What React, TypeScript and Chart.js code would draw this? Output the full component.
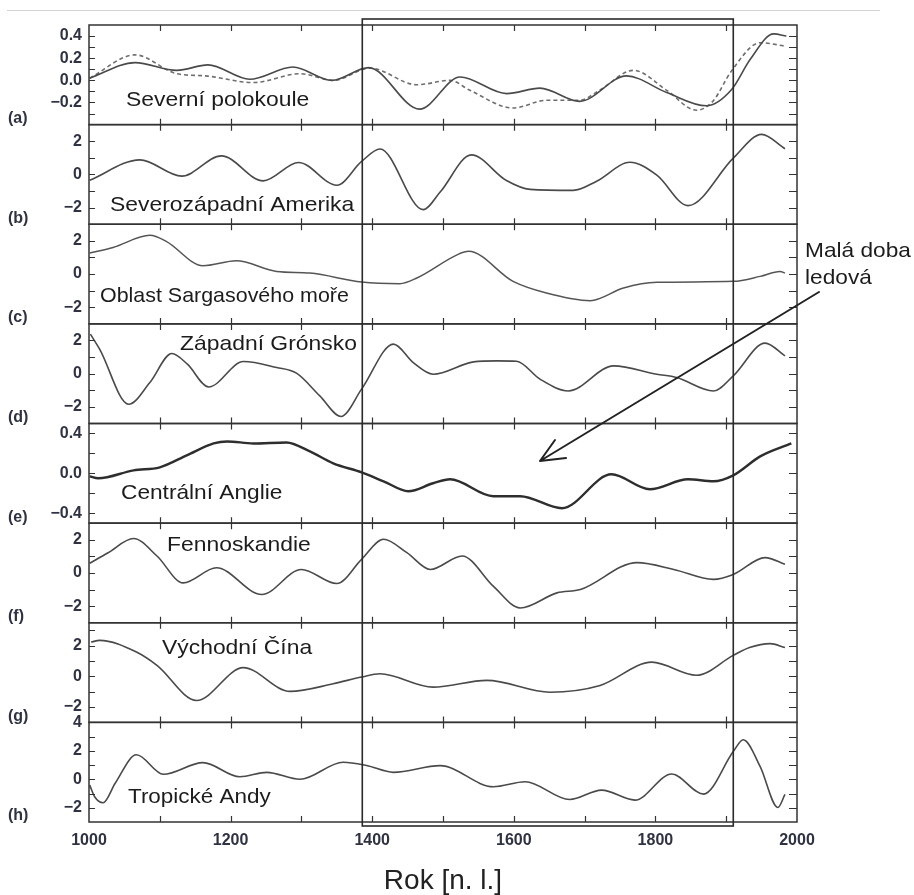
import React, { useEffect, useRef } from 'react';
import { Chart, registerables } from 'chart.js';

Chart.register(...registerables);

// ---------- data (years AD, anomaly values) ----------
const nhSolidYears = [1001, 1065, 1124, 1168, 1227, 1288, 1343, 1395, 1467, 1524, 1590, 1637, 1693, 1759, 1816, 1872, 1908, 1934, 1967, 1985];
const nhSolidValues = [0.02, 0.16, 0.09, 0.14, 0.01, 0.12, 0.0, 0.115, -0.26, 0.03, -0.12, -0.07, -0.19, 0.04, -0.11, -0.23, -0.08, 0.19, 0.42, 0.4];

const nhDashedYears = [1001, 1065, 1124, 1165, 1232, 1298, 1345, 1397, 1463, 1510, 1538, 1599, 1646, 1693, 1721, 1769, 1816, 1858, 1881, 1908, 1948, 1983];
const nhDashedValues = [0.02, 0.23, 0.06, 0.04, -0.02, 0.06, 0.0, 0.11, -0.04, 0.0, -0.09, -0.25, -0.18, -0.18, -0.09, 0.09, -0.09, -0.27, -0.19, 0.09, 0.34, 0.31];

const nwAmericaYears = [1001, 1072, 1131, 1187, 1246, 1296, 1350, 1385, 1411, 1472, 1496, 1540, 1589, 1623, 1684, 1717, 1764, 1802, 1846, 1910, 1950, 1983];
const nwAmericaValues = [-0.35, 0.88, -0.1, 1.12, -0.39, 0.72, -0.65, 0.78, 1.53, -2.12, -1.06, 1.18, -0.35, -0.9, -0.96, -0.41, 0.73, -0.04, -1.88, 0.98, 2.41, 1.55];

const sargassoYears = [1001, 1034, 1086, 1109, 1161, 1208, 1265, 1312, 1385, 1439, 1463, 1522, 1536, 1599, 1646, 1708, 1755, 1802, 1910, 1948, 1976, 1983];
const sargassoValues = [1.27, 1.6, 2.33, 1.97, 0.5, 0.8, 0.16, 0.06, -0.48, -0.58, -0.24, 1.2, 1.37, -0.44, -1.14, -1.6, -0.84, -0.5, -0.44, -0.14, 0.16, 0.06];

const greenlandYears = [1002, 1015, 1056, 1086, 1117, 1139, 1169, 1218, 1265, 1293, 1326, 1356, 1385, 1430, 1458, 1486, 1543, 1576, 1604, 1637, 1677, 1741, 1802, 1830, 1882, 1910, 1955, 1983];
const greenlandValues = [2.38, 1.48, -1.84, -0.53, 1.22, 0.57, -0.8, 0.73, 0.37, 0.03, -1.34, -2.58, -0.93, 1.78, 0.67, -0.03, 0.71, 0.77, 0.75, -0.33, -1.04, 0.47, -0.03, -0.23, -1.04, -0.13, 1.84, 1.07];

const englandYears = [1001, 1013, 1063, 1100, 1138, 1176, 1195, 1232, 1279, 1312, 1345, 1385, 1416, 1451, 1486, 1510, 1571, 1609, 1668, 1738, 1792, 1846, 1882, 1910, 1948, 1992];
const englandValues = [-0.03, -0.05, 0.03, 0.06, 0.18, 0.3, 0.32, 0.3, 0.31, 0.22, 0.1, 0.01, -0.08, -0.18, -0.1, -0.06, -0.23, -0.23, -0.35, -0.01, -0.16, -0.06, -0.08, -0.02, 0.17, 0.3];

const fennoYears = [1001, 1027, 1063, 1096, 1133, 1180, 1244, 1300, 1350, 1385, 1416, 1449, 1482, 1527, 1571, 1609, 1661, 1694, 1774, 1826, 1882, 1910, 1955, 1983];
const fennoValues = [0.58, 1.22, 2.07, 1.02, -0.6, 0.31, -1.3, 0.21, -0.64, 0.82, 2.03, 1.22, 0.21, 1.02, -0.8, -2.11, -1.2, -1.0, 0.62, 0.21, -0.39, -0.09, 0.92, 0.52];

const chinaYears = [1003, 1015, 1067, 1096, 1152, 1218, 1284, 1345, 1385, 1411, 1486, 1562, 1651, 1722, 1795, 1858, 1910, 1933, 1962, 1983];
const chinaValues = [2.24, 2.35, 1.59, 0.72, -1.57, 0.57, -0.98, -0.48, -0.04, 0.17, -0.7, -0.26, -1.03, -0.59, 0.93, 0.07, 1.37, 1.88, 2.14, 1.88];

const andesYears = [1001, 1008, 1020, 1037, 1067, 1105, 1161, 1213, 1251, 1298, 1359, 1392, 1430, 1496, 1571, 1616, 1679, 1724, 1771, 1823, 1868, 1910, 1924, 1948, 1973, 1983];
const andesValues = [-0.4, -1.23, -1.65, -0.28, 1.72, 0.35, 1.17, 0.18, 0.49, 0.0, 1.2, 0.97, 0.49, 0.96, -0.52, -0.17, -1.42, -0.76, -1.46, 0.37, -1.04, 1.95, 2.78, 0.89, -1.98, -1.06];

// ---------- panels ----------
const panelIds = ['ya', 'yb', 'yc', 'yd', 'ye', 'yf', 'yg', 'yh'];
const panelLetters = ['(a)', '(b)', '(c)', '(d)', '(e)', '(f)', '(g)', '(h)'];
const panelNames = ['Severní polokoule', 'Severozápadní Amerika', 'Oblast Sargasového moře', 'Západní Grónsko', 'Centrální Anglie', 'Fennoskandie', 'Východní Čína', 'Tropické Andy'];
const panelMin = [-0.4, -3, -3, -3, -0.5, -3, -3, -3];
const panelMax = [0.5, 3, 3, 3, 0.5, 3, 3.5, 4];
const panelDecimals = [1, 0, 0, 0, 1, 0, 0, 0];
const panelLabelTicks = [
  [-0.2, 0, 0.2, 0.4],
  [-2, 0, 2],
  [-2, 0, 2],
  [-2, 0, 2],
  [-0.4, 0, 0.4],
  [-2, 0, 2],
  [-2, 0, 2],
  [-2, 0, 2, 4],
];
const panelMinorTicks = [
  [-0.3, -0.2, -0.1, 0, 0.1, 0.2, 0.3, 0.4],
  [-2, -1, 0, 1, 2],
  [-2, -1, 0, 1, 2],
  [-2, -1, 0, 1, 2],
  [-0.4, -0.2, 0, 0.2, 0.4],
  [-2, -1, 0, 1, 2],
  [-2, -1, 0, 1, 2, 3],
  [-2, -1, 0, 1, 2, 3],
];
const yearLabels = [1000, 1200, 1400, 1600, 1800, 2000];
const yearMinorTicks = [1100, 1200, 1300, 1400, 1500, 1600, 1700, 1800, 1900];
const boxYears = [1386, 1910];

// text placement (left x, baseline y, horizontal stretch)
const nameLeft = [126, 110, 100, 180, 121, 167, 162, 128];
const nameBaseline = [106, 211, 302, 350, 499, 551, 654, 803];
const nameStretch = [1.09, 1.09, 1.02, 1.09, 1.08, 1.09, 1.09, 1.07];

const FONT = '"Liberation Sans", Arial, Helvetica, sans-serif';

function fmt(v: number, dec: number) {
  const a = Math.abs(v) < 1e-9 ? 0 : v;
  const s = Math.abs(a).toFixed(dec);
  return a < 0 ? '\u2212' + s : s;
}

function pts(xs: number[], ys: number[]) {
  return xs.map((x, i) => ({ x, y: ys[i] }));
}

const decorPlugin = {
  id: 'decor',
  afterDraw(chart: any) {
    const ctx: CanvasRenderingContext2D = chart.ctx;
    const area = chart.chartArea;
    const xs = chart.scales.x;
    ctx.save();

    // page separator line at top
    ctx.strokeStyle = '#d4d4d4';
    ctx.lineWidth = 1;
    ctx.beginPath();
    ctx.moveTo(7, 10.5);
    ctx.lineTo(880, 10.5);
    ctx.stroke();

    // panel frames and ticks
    ctx.strokeStyle = '#333';
    ctx.lineWidth = 1.5;
    panelIds.forEach((id, i) => {
      const s = chart.scales[id];
      ctx.strokeRect(area.left, s.top, area.right - area.left, s.bottom - s.top);
      ctx.lineWidth = 1.2;
      ctx.beginPath();
      yearMinorTicks.forEach((yr) => {
        const px = Math.round(xs.getPixelForValue(yr)) + 0.5;
        ctx.moveTo(px, s.top);
        ctx.lineTo(px, s.top + 6);
        ctx.moveTo(px, s.bottom);
        ctx.lineTo(px, s.bottom - 6);
      });
      panelMinorTicks[i].forEach((v) => {
        const py = Math.round(s.getPixelForValue(v)) + 0.5;
        ctx.moveTo(area.left, py);
        ctx.lineTo(area.left + 6, py);
        ctx.moveTo(area.right, py);
        ctx.lineTo(area.right - 8, py);
      });
      ctx.stroke();
      ctx.lineWidth = 1.5;

      // panel letter
      ctx.fillStyle = '#2f3242';
      ctx.font = `bold 16px ${FONT}`;
      ctx.textBaseline = 'middle';
      ctx.textAlign = 'left';
      ctx.fillText(panelLetters[i], 8, s.bottom - 6);

      // panel name
      ctx.save();
      ctx.fillStyle = '#1c1c1c';
      ctx.font = `21px ${FONT}`;
      ctx.textBaseline = 'alphabetic';
      ctx.translate(nameLeft[i], nameBaseline[i]);
      ctx.scale(nameStretch[i], 1);
      ctx.fillText(panelNames[i], 0, 0);
      ctx.restore();
    });

    // highlight rectangle (Little Ice Age period)
    ctx.strokeStyle = '#2a2a2a';
    ctx.lineWidth = 1.6;
    const bx0 = xs.getPixelForValue(boxYears[0]);
    const bx1 = xs.getPixelForValue(boxYears[1]);
    ctx.strokeRect(bx0, area.top - 6, bx1 - bx0, area.bottom - area.top + 10);

    // arrow
    ctx.strokeStyle = '#222';
    ctx.lineWidth = 2;
    ctx.lineCap = 'round';
    ctx.beginPath();
    ctx.moveTo(819, 292);
    ctx.lineTo(540, 461);
    ctx.moveTo(540, 461);
    ctx.lineTo(555, 440);
    ctx.moveTo(540, 461);
    ctx.lineTo(566, 458);
    ctx.stroke();

    // annotation text
    ctx.save();
    ctx.fillStyle = '#1c1c1c';
    ctx.font = `21px ${FONT}`;
    ctx.textBaseline = 'alphabetic';
    ctx.translate(805, 257);
    ctx.scale(1.08, 1);
    ctx.fillText('Malá doba', 0, 0);
    ctx.fillText('ledová', 0, 26.5);
    ctx.restore();

    ctx.restore();
  },
};

export default function App() {
  const ref = useRef<HTMLCanvasElement>(null);

  useEffect(() => {
    const canvas = ref.current;
    if (!canvas) return;

    const lineBase = {
      pointRadius: 0,
      cubicInterpolationMode: 'monotone' as const,
      fill: false,
      xAxisID: 'x',
    };

    const datasets: any[] = [
      { ...lineBase, label: 'Severní polokoule', data: pts(nhSolidYears, nhSolidValues), yAxisID: 'ya', borderColor: '#4a4a4a', borderWidth: 1.6 },
      { ...lineBase, label: 'Severní polokoule (2)', data: pts(nhDashedYears, nhDashedValues), yAxisID: 'ya', borderColor: '#6e6e6e', borderWidth: 1.6, borderDash: [4, 3] },
      { ...lineBase, label: 'Severozápadní Amerika', data: pts(nwAmericaYears, nwAmericaValues), yAxisID: 'yb', borderColor: '#4a4a4a', borderWidth: 1.6 },
      { ...lineBase, label: 'Oblast Sargasového moře', data: pts(sargassoYears, sargassoValues), yAxisID: 'yc', borderColor: '#555', borderWidth: 1.5 },
      { ...lineBase, label: 'Západní Grónsko', data: pts(greenlandYears, greenlandValues), yAxisID: 'yd', borderColor: '#4a4a4a', borderWidth: 1.6 },
      { ...lineBase, label: 'Centrální Anglie', data: pts(englandYears, englandValues), yAxisID: 'ye', borderColor: '#2e2e2e', borderWidth: 2.4 },
      { ...lineBase, label: 'Fennoskandie', data: pts(fennoYears, fennoValues), yAxisID: 'yf', borderColor: '#4a4a4a', borderWidth: 1.6 },
      { ...lineBase, label: 'Východní Čína', data: pts(chinaYears, chinaValues), yAxisID: 'yg', borderColor: '#4a4a4a', borderWidth: 1.6 },
      { ...lineBase, label: 'Tropické Andy', data: pts(andesYears, andesValues), yAxisID: 'yh', borderColor: '#4a4a4a', borderWidth: 1.6 },
    ];

    const scales: any = {
      x: {
        type: 'linear',
        position: 'bottom',
        min: 1000,
        max: 2000,
        afterFit: (s: any) => { s.height = 73; },
        afterBuildTicks: (s: any) => { s.ticks = yearLabels.map((v) => ({ value: v })); },
        grid: { display: false, drawTicks: false },
        border: { display: false },
        ticks: {
          padding: 9,
          autoSkip: false,
          maxRotation: 0,
          color: '#2f3242',
          font: { family: FONT, size: 16, weight: 'bold' },
          callback: (v: any) => String(v),
        },
        title: {
          display: true,
          text: 'Rok [n. l.]',
          color: '#222',
          font: { family: FONT, size: 28, lineHeight: 1 },
          padding: { top: 0, bottom: 0 },
        },
      },
    };

    // define bottom panel first so the top panel is stacked on top
    for (let i = panelIds.length - 1; i >= 0; i--) {
      const labels = panelLabelTicks[i];
      const dec = panelDecimals[i];
      scales[panelIds[i]] = {
        type: 'linear',
        position: 'left',
        stack: 'panels',
        stackWeight: 1,
        min: panelMin[i],
        max: panelMax[i],
        afterFit: (s: any) => { s.width = 89; },
        afterBuildTicks: (s: any) => { s.ticks = labels.map((v) => ({ value: v })); },
        grid: { display: false, drawTicks: false },
        border: { display: false },
        ticks: {
          autoSkip: false,
          padding: 7,
          color: '#2f3242',
          font: { family: FONT, size: 16, weight: 'bold' },
          callback: (v: any) => fmt(Number(v), dec),
        },
      };
    }

    const chart = new Chart(canvas, {
      type: 'line',
      data: { datasets },
      options: {
        animation: false,
        responsive: false,
        events: [],
        layout: { padding: { left: 0, right: 117, top: 25, bottom: 0 } },
        plugins: { legend: { display: false }, tooltip: { enabled: false } },
        scales,
      },
      plugins: [decorPlugin],
    });

    return () => chart.destroy();
  }, []);

  return (
    <div style={{ position: 'absolute', left: 0, top: 0, width: 914, height: 895, background: '#fff' }}>
      <canvas ref={ref} width={914} height={895} style={{ display: 'block', width: 914, height: 895 }} />
    </div>
  );
}
